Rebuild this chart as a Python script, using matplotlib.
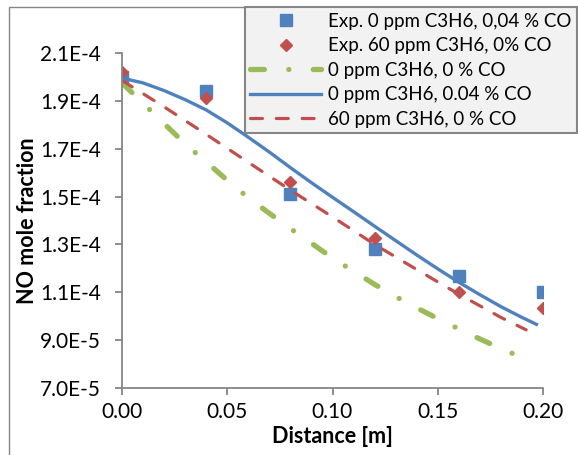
"""
NO mole fraction along the reactor - experiments vs model
"""

# import libraries
import numpy as np
import matplotlib as mpl
mpl.use('Agg')
import matplotlib.pyplot as plt
from matplotlib.lines import Line2D
from matplotlib.patches import Rectangle

mpl.rcParams['font.family'] = ['Lato', 'DejaVu Sans']
mpl.rcParams['lines.scale_dashes'] = False

# colours (excel defaults)
blue = '#4F81BD'
red = '#C0504D'
green = '#9BBB59'
grey = '#868686'

##### data #####

# experiments
x_exp = [0.00, 0.04, 0.08, 0.12, 0.16, 0.20]
no_exp_co = [2.00e-4, 1.94e-4, 1.51e-4, 1.28e-4, 1.17e-4, 1.10e-4]
no_exp_c3h6 = [2.02e-4, 1.91e-4, 1.56e-4, 1.325e-4, 1.10e-4, 1.033e-4]

# model, 0 ppm C3H6, 0 % CO
x_base = [0.00, 0.01, 0.02, 0.03, 0.04, 0.05, 0.06, 0.07, 0.08, 0.09, 0.10,
          0.11, 0.12, 0.13, 0.14, 0.15, 0.16, 0.17, 0.18, 0.192]
no_base = [1.975e-4, 1.89e-4, 1.805e-4, 1.72e-4, 1.645e-4, 1.568e-4, 1.495e-4,
           1.43e-4, 1.366e-4, 1.305e-4, 1.243e-4, 1.188e-4, 1.133e-4, 1.082e-4,
           1.035e-4, 9.9e-5, 9.47e-5, 9.05e-5, 8.65e-5, 8.2e-5]

# model, 0 ppm C3H6, 0.04 % CO
x_co = [0.00, 0.01, 0.02, 0.03, 0.04, 0.05, 0.06, 0.07, 0.08, 0.09, 0.10,
        0.11, 0.12, 0.13, 0.14, 0.15, 0.16, 0.17, 0.18, 0.19, 0.1976]
no_co = [1.995e-4, 1.975e-4, 1.943e-4, 1.905e-4, 1.862e-4, 1.808e-4, 1.748e-4,
         1.686e-4, 1.621e-4, 1.558e-4, 1.497e-4, 1.437e-4, 1.376e-4, 1.316e-4,
         1.256e-4, 1.198e-4, 1.142e-4, 1.09e-4, 1.04e-4, 9.95e-5, 9.63e-5]

# model, 60 ppm C3H6, 0 % CO
x_c3h6 = [0.00, 0.02, 0.04, 0.06, 0.08, 0.10, 0.12, 0.14, 0.16, 0.18, 0.192]
no_c3h6 = [1.985e-4, 1.875e-4, 1.76e-4, 1.643e-4, 1.527e-4, 1.415e-4, 1.30e-4,
           1.195e-4, 1.092e-4, 9.95e-5, 9.43e-5]

# axis ticks
xticks = [0.00, 0.05, 0.10, 0.15, 0.20]
xticklabels = ['0.00', '0.05', '0.10', '0.15', '0.20']
yticks = [7.0e-5, 9.0e-5, 1.1e-4, 1.3e-4, 1.5e-4, 1.7e-4, 1.9e-4, 2.1e-4]
yticklabels = ['7.0E-5', '9.0E-5', '1.1E-4', '1.3E-4', '1.5E-4', '1.7E-4',
               '1.9E-4', '2.1E-4']

labels = ['Exp. 0 ppm C3H6, 0,04 % CO', 'Exp. 60 ppm C3H6, 0% CO',
          '0 ppm C3H6, 0 % CO', '0 ppm C3H6, 0.04 % CO', '60 ppm C3H6, 0 % CO']

##### plot #####

fig = plt.figure(figsize=(5.78, 4.55), dpi=100)
ax = fig.add_axes([122/578, 1-388/455, (543-122)/578, (388-53)/455])

ax.plot(x_exp, no_exp_co, ls='none', marker='s', ms=8, color=blue, mec=blue)
ax.plot(x_exp, no_exp_c3h6, ls='none', marker='D', ms=6.5, color=red, mec=red)
ax.plot(x_base, no_base, color=green, lw=3.8, dashes=[10, 17.6, 0.01, 17.6],
        dash_capstyle='round')
ax.plot(x_co, no_co, color=blue, lw=2.4, solid_capstyle='butt')
ax.plot(x_c3h6, no_c3h6, color=red, lw=2.3, dashes=[8.6, 10],
        dash_capstyle='round')

ax.set_xlim(0, 0.2)
ax.set_ylim(7.0e-5, 2.1e-4)
ax.set_xticks(xticks)
ax.set_xticklabels(xticklabels)
ax.set_yticks(yticks)
ax.set_yticklabels(yticklabels)

for s in ['top', 'right']:
    ax.spines[s].set_visible(False)
for s in ['left', 'bottom']:
    ax.spines[s].set_color(grey)
    ax.spines[s].set_linewidth(1.3)
ax.tick_params(axis='both', colors=grey, labelcolor='black', labelsize=15,
               length=5, width=1.3, direction='out')
ax.tick_params(axis='y', pad=10)
ax.tick_params(axis='x', pad=5)

ax.set_xlabel('Distance [m]', fontsize=15.5, fontweight='bold', labelpad=3)
ax.set_ylabel('NO mole fraction', fontsize=15.5, fontweight='bold')
ax.yaxis.set_label_coords(-0.2, 0.5)

# legend
handles = [
    Line2D([], [], ls='none', marker='s', ms=8, color=blue),
    Line2D([], [], ls='none', marker='D', ms=6.5, color=red),
    Line2D([], [], color=green, lw=3.8, dashes=[10, 17.6, 0.01, 17.6],
           dash_capstyle='round'),
    Line2D([], [], color=blue, lw=2.4),
    Line2D([], [], color=red, lw=2.3, dashes=[8.6, 10], dash_capstyle='round'),
]
leg = fig.legend(handles, labels, loc='upper right',
                 bbox_to_anchor=(577/578, 1-7/455), borderaxespad=0,
                 fontsize=13.5, handlelength=3.8, handletextpad=0.35,
                 labelspacing=0.4, borderpad=0.3, fancybox=False,
                 framealpha=1)
leg.get_frame().set_facecolor('#f2f2f2')
leg.get_frame().set_edgecolor(grey)
leg.get_frame().set_linewidth(1.5)

# chart area border
fig.patches.append(Rectangle((9/578, -0.05), 1.1, 1-7/455+0.05,
                             transform=fig.transFigure, fill=False,
                             edgecolor=grey, lw=1.0, zorder=0))

fig.savefig('out.png', dpi=100)
